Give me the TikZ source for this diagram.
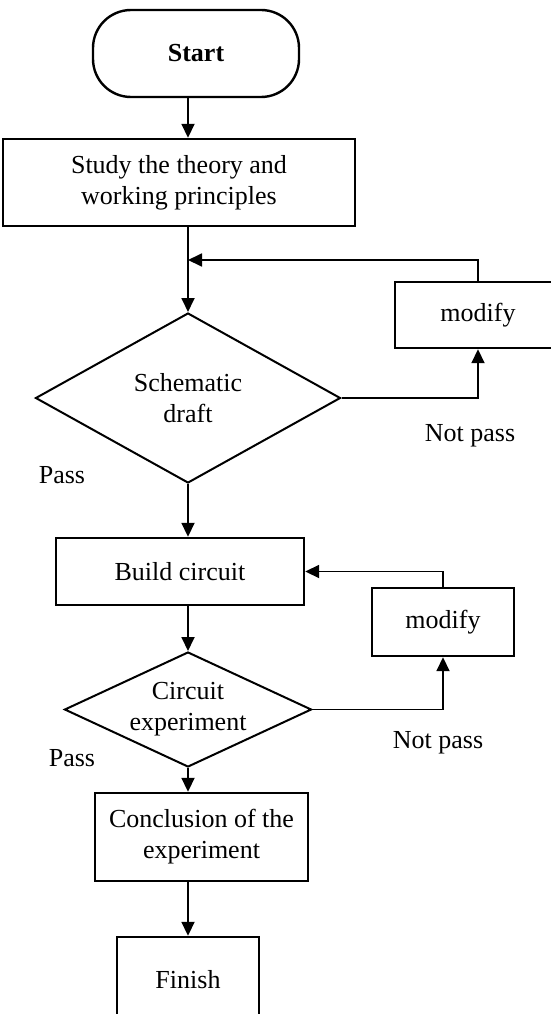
\documentclass[tikz,border=0pt]{standalone}
\usepackage{fontspec}
\setmainfont{Liberation Serif}
\usetikzlibrary{shapes.geometric,arrows.meta}
\begin{document}
\begin{tikzpicture}[x=1pt,y=-1pt,
  box/.style={draw, line width=2.4pt, inner sep=0pt, align=center, font=\fontsize{26}{31}\selectfont},
  decision/.style={draw, diamond, line width=2pt, inner sep=0pt, align=center, font=\fontsize{26}{31}\selectfont},
  line/.style={draw, line width=1.8pt, -{Triangle[length=14pt,width=13pt]}},
  tag/.style={font=\fontsize{26}{30}\selectfont}]
\useasboundingbox (0,0) rectangle (550,1014);

\node[box, rounded corners=38pt, minimum width=206pt, minimum height=87pt, font=\fontsize{26}{31}\selectfont\bfseries] (start) at (196,53.5) {Start};
\node[box, minimum width=352pt, minimum height=87pt] (study) at (179,182.5) {Study the theory and\\working principles};
\node[decision, aspect=1.8, minimum width=305pt, minimum height=170pt] (check1) at (188,398) {Schematic\\draft};
\node[box, minimum width=166pt, minimum height=66pt] (modify1) at (478,315) {modify};
\node[box, minimum width=248pt, minimum height=67pt] (build) at (180,571.5) {Build circuit};
\node[box, minimum width=142pt, minimum height=68pt] (modify2) at (443,622) {modify};
\node[decision, aspect=2.2, inner sep=-4pt, minimum width=247pt, minimum height=115pt] (check2) at (188,709.5) {Circuit\\experiment};
\node[box, minimum width=213pt, minimum height=88pt] (conclusion) at (201.5,837) {Conclusion of the\\experiment};
\node[box, minimum width=142pt, minimum height=86pt] (finish) at (188,980) {Finish};

\node[tag] (notpass1) at (470,436) {Not pass};
\node[tag] (pass1) at (62,475) {Pass};
\node[tag] (notpass2) at (438,743) {Not pass};
\node[tag] (pass2) at (72,758) {Pass};

\coordinate (join1) at (188,260);

\path[line] (start.south -| check1.north) -- (study.north -| check1.north);
\path[line] (study.south -| check1.north) -- (check1.north);
\path[line] (check1.east) -| (modify1.south);
\path[line] (modify1.north) |- (join1);
\path[line] (check1.south) -- (build.north -| check1.south);
\path[line] (build.south -| check2.north) -- (check2.north);
\path[line] (check2.east) -| (modify2.south);
\path[line] (modify2.north) |- (build.east);
\path[line] (check2.south) -- (conclusion.north -| check2.south);
\path[line] (conclusion.south -| finish.north) -- (finish.north);
\end{tikzpicture}
\end{document}
